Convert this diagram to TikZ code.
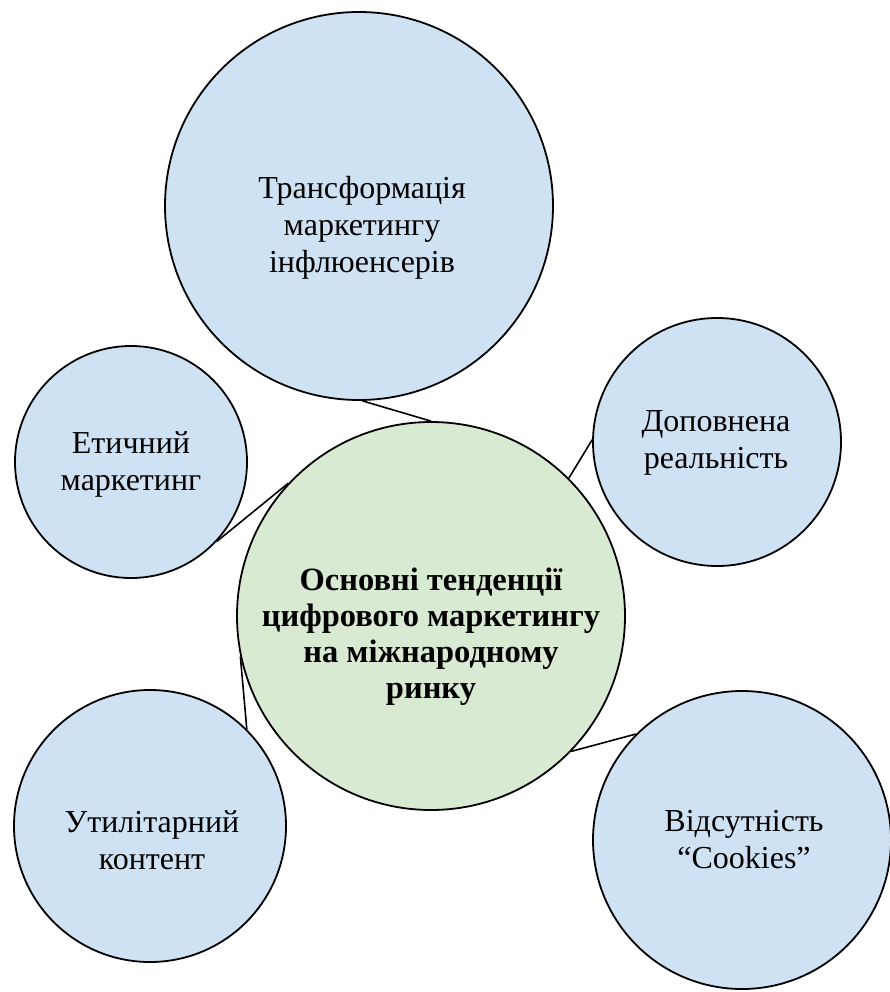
\documentclass[tikz,border=0pt]{standalone}
\usepackage{fontspec}
\setmainfont{Liberation Serif}
\definecolor{bluefill}{HTML}{CFE2F3}
\definecolor{greenfill}{HTML}{D9EAD3}
\begin{document}
\begin{tikzpicture}[x=1pt,y=-1pt,
  bubble/.style={circle, draw=black, line width=1.8pt, inner sep=0pt, fill=bluefill},
  hub/.style={bubble, fill=greenfill},
  label/.style={align=center, inner sep=0pt, font=\fontsize{32}{37}\selectfont},
  hublabel/.style={label, font=\fontsize{32.5}{36}\selectfont\bfseries},
  link/.style={draw=black, line width=1.6pt}]
\useasboundingbox (0,0) rectangle (890,992);
\fill[white] (0,0) rectangle (890,992);
% circles
\node[bubble, minimum size=388pt] (top) at (359,206) {};
\node[hub, minimum size=388pt] (ctr) at (431,616) {};
\node[bubble, minimum size=232pt] (eth) at (131,462) {};
\node[bubble, minimum size=248pt] (ar) at (717,442) {};
\node[bubble, minimum size=272pt] (util) at (150,826) {};
\node[bubble, minimum size=298pt] (cook) at (742,840) {};
% texts
\node[label] (ttop) at (362,227.5) {Трансформація\\маркетингу\\інфлюенсерів};
\node[hublabel] (tctr) at (431,636.5) {Основні тенденції\\цифрового маркетингу\\на міжнародному\\ринку};
\node[label] (teth) at (131,464) {Етичний\\маркетинг};
\node[label] (tar) at (716,443) {Доповнена\\реальність};
\node[label] (tutil) at (152,840.5) {Утилітарний\\контент};
\node[label] (tcook) at (744,839.5) {Відсутність\\“Cookies”};
% connectors
\draw[link] (top.-89) -- (ctr.90.3);
\draw[link] (eth.-43) -- (ctr.137.5);
\draw[link] (ctr.45.4) -- (ar.179);
\draw[link] (ctr.192.2) -- (util.45.3);
\draw[link] (ctr.-44.8) -- (cook.135);
\end{tikzpicture}
\end{document}
